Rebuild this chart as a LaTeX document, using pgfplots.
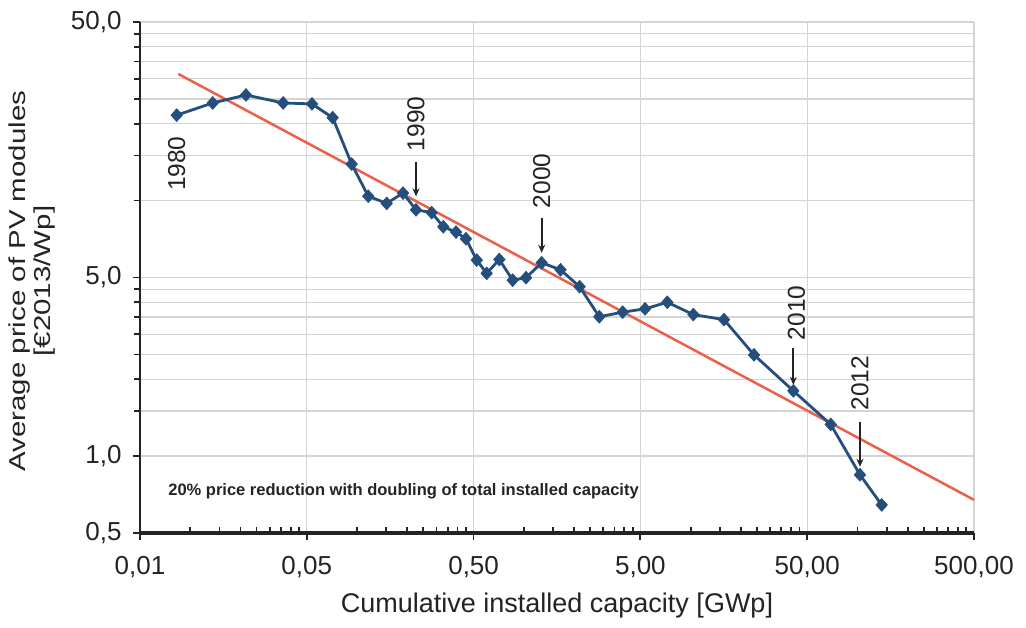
\documentclass[border=0pt]{standalone}
\usepackage{pgfplots}
\pgfplotsset{compat=1.18}
\usepackage{fontspec}
\setmainfont{Liberation Sans}
\usetikzlibrary{arrows.meta}

\definecolor{pvblue}{RGB}{36,79,125}
\definecolor{fitred}{RGB}{234,96,72}
\definecolor{gridgray}{RGB}{212,212,212}
\definecolor{txt}{RGB}{35,35,35}

\tikzset{
  year/.style={rotate=90, font=\fontsize{24.5}{28}\selectfont, text=txt, inner sep=0pt},
  yeararrow/.style={draw=txt, line width=2pt, -{Stealth[length=8pt,width=7pt]}},
}

\begin{document}
\begin{tikzpicture}
\useasboundingbox (-140pt,-95pt) rectangle (886pt,533pt);
\begin{axis}[
  at={(0pt,0pt)}, anchor=south west,
  scale only axis, width=834pt, height=511pt,
  xmode=log, ymode=log,
  xmin=0.005, xmax=500, ymin=0.5, ymax=50,
  axis x line=bottom, axis y line=left,
  x axis line style={-, line width=3.5pt, draw=txt},
  y axis line style={-, line width=2.5pt, draw=txt},
  xtick={0.005,0.05,0.5,5,50,500},
  xticklabels={{0,01},{0,05},{0,50},{5,00},{50,00},{500,00}},
  minor xtick={0.01,0.015,0.02,0.025,0.03,0.035,0.04,0.045,
               0.1,0.15,0.2,0.25,0.3,0.35,0.4,0.45,
               1,1.5,2,2.5,3,3.5,4,4.5,
               10,15,20,25,30,35,40,45,
               100,150,200,250,300,350,400,450},
  ytick={0.5,1,5,50},
  yticklabels={{0,5},{1,0},{5,0},{50,0}},
  minor ytick={1.5,2,2.5,3,3.5,4,4.5,10,15,20,25,30,35,40,45},
  xmajorgrids, ymajorgrids, yminorgrids,
  major grid style={gridgray, line width=1.3pt},
  minor grid style={gridgray, line width=1.3pt},
  tick align=outside,
  major tick length=7pt, minor tick length=6pt,
  tick style={txt, line width=1.8pt},
  minor x tick style={yshift=6pt},
  ticklabel style={font=\fontsize{26}{30}\selectfont, text=txt},
  yticklabel style={xshift=-8pt},
  xticklabel style={yshift=-13pt},
  xlabel={Cumulative installed capacity [GWp]},
  xlabel style={font=\fontsize{27}{32}\selectfont, text=txt,
    at={(axis description cs:0.5,-0.141)}, anchor=center},
  ylabel={Average price of PV modules\\{[€2013/Wp]}},
  ylabel style={font=\fontsize{23}{25}\selectfont, text=txt, align=center,
    at={(axis description cs:-0.129,0.493)}, anchor=center, xscale=1.28},
  clip=false,
]

% learning-curve fit: 20% cheaper per doubling of capacity
\addplot[fitred, line width=2.5pt] coordinates {(0.00849,31.3) (500,0.674)};

% module prices 1980-2013
\addplot[pvblue, line width=2.8pt, line join=round,
  mark=diamond*, mark size=6.5pt,
  mark options={solid, fill=pvblue, line width=0.5pt, xscale=1.2}] coordinates {
(0.00830,21.6)
(0.01364,24.1)
(0.0216,25.9)
(0.0361,24.1)
(0.0537,23.9)
(0.0715,21.1)
(0.0929,13.9)
(0.1168,10.4)
(0.1507,9.75)
(0.1887,10.7)
(0.2258,9.20)
(0.2804,8.97)
(0.3291,7.90)
(0.3923,7.53)
(0.450,7.09)
(0.522,5.85)
(0.599,5.19)
(0.713,5.88)
(0.858,4.88)
(1.031,4.99)
(1.280,5.71)
(1.660,5.36)
(2.161,4.60)
(2.836,3.51)
(3.917,3.66)
(5.33,3.77)
(7.25,4.00)
(10.38,3.58)
(15.86,3.42)
(23.99,2.49)
(41.3,1.80)
(69.2,1.33)
(103.6,0.845)
(139.8,0.644)
};

% year markers
\node[year] at ([yshift=-48.5pt]axis cs:0.00830,21.6) {1980};
\node[year] at ([yshift=86pt]axis cs:0.2258,9.20) {1990};
\draw[yeararrow] ([yshift=47.5pt]axis cs:0.2258,9.20) -- ([yshift=13.5pt]axis cs:0.2258,9.20);
\node[year] at ([yshift=82pt]axis cs:1.280,5.71) {2000};
\draw[yeararrow] ([yshift=45pt]axis cs:1.280,5.71) -- ([yshift=10pt]axis cs:1.280,5.71);
\node[year] at ([xshift=3pt,yshift=78pt]axis cs:41.3,1.80) {2010};
\draw[yeararrow] ([yshift=43pt]axis cs:41.3,1.80) -- ([yshift=6pt]axis cs:41.3,1.80);
\node[year] at ([yshift=91.5pt]axis cs:103.6,0.845) {2012};
\draw[yeararrow] ([yshift=53pt]axis cs:103.6,0.845) -- ([yshift=8pt]axis cs:103.6,0.845);

\node[font=\bfseries\fontsize{16.5}{19}\selectfont, text=txt]
  at (axis description cs:0.316,0.081)
  {20\% price reduction with doubling of total installed capacity};
\end{axis}
\end{tikzpicture}
\end{document}
